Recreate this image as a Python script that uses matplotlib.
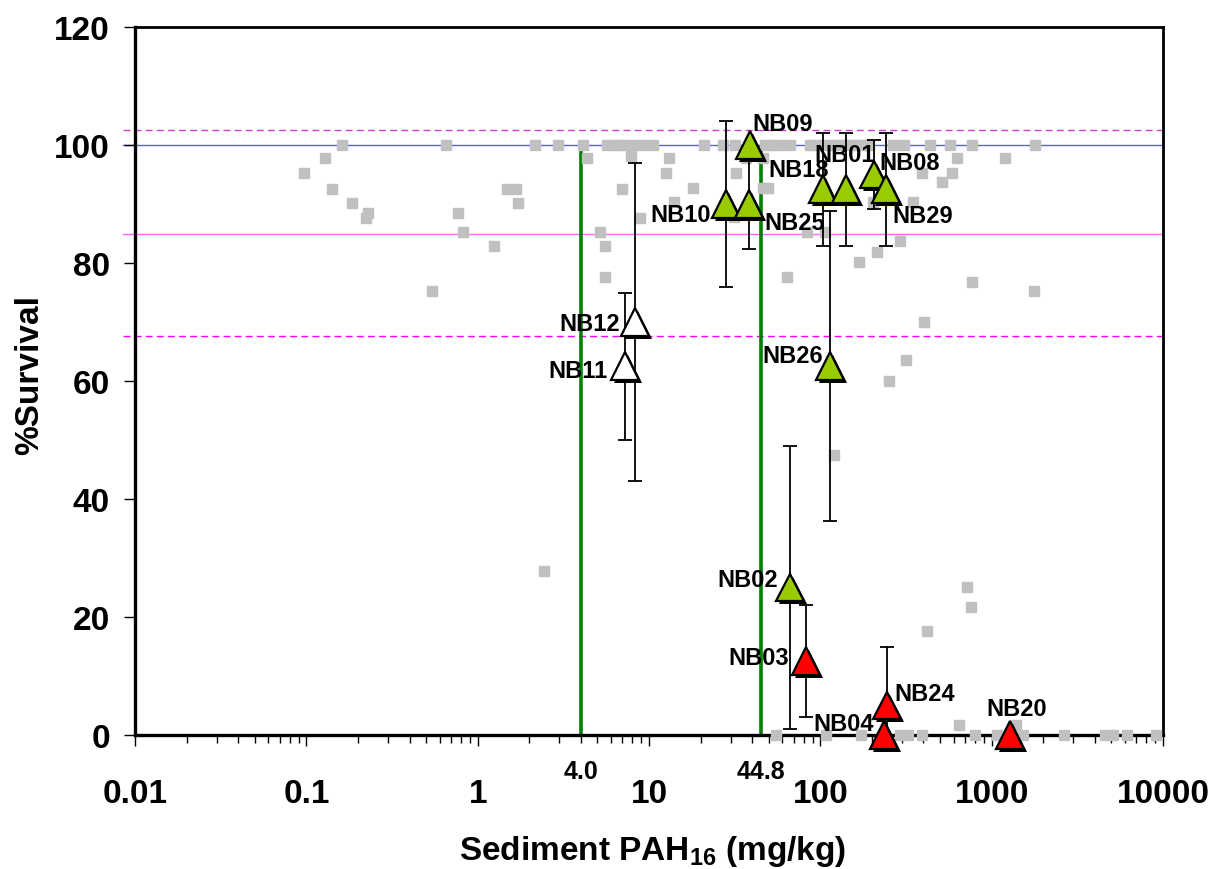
import matplotlib
matplotlib.use('Agg')
import matplotlib.pyplot as plt
import matplotlib.patheffects as pe
import matplotlib.ticker as mticker
import matplotlib.transforms as mtransforms

plt.rcParams['font.family'] = ['Liberation Sans', 'DejaVu Sans']
plt.rcParams['font.weight'] = 'bold'
plt.rcParams['mathtext.fontset'] = 'custom'
plt.rcParams['mathtext.rm'] = 'Liberation Sans:bold'
plt.rcParams['mathtext.bf'] = 'Liberation Sans:bold'

# background reference data (grey squares)
ref_pah = [0.161, 0.129, 0.097, 0.141, 0.185, 0.229, 0.223,
           0.655, 0.769, 0.822, 1.25, 0.542, 1.48, 1.68, 1.72,
           2.16, 2.95, 4.12, 4.36, 5.69, 6.34, 6.97, 7.86, 9.11,
           7.86, 6.97, 5.18, 5.55, 5.55, 10.6, 13.1, 12.6, 14.0, 8.87, 2.44,
           21.0, 27.1, 31.8, 47.6, 52.0, 58.2, 66.7, 87.2, 95.0, 104, 120, 130,
           139, 150, 164, 178, 193, 266, 309, 437, 573, 769, 1795,
           36.9, 46.0, 629, 1200, 32.2, 393, 588, 514, 18.1, 46.3, 49.6,
           203, 348, 31.4, 83.8, 107, 292, 215, 169, 64.0, 769, 1770,
           404, 317, 252, 120, 719, 759, 421, 646, 1390,
           55.2, 108, 173, 292, 326, 393, 801, 1076, 1528, 2650, 4600, 5120, 6180, 9120]
ref_surv = [100, 97.8, 95.3, 92.5, 90.2, 88.5, 87.6,
            100, 88.5, 85.3, 82.9, 75.3, 92.5, 92.5, 90.2,
            100, 100, 100, 97.8, 100, 100, 100, 100, 100,
            98.1, 92.5, 85.3, 82.9, 77.6, 100, 97.8, 95.3, 90.3, 87.6, 27.8,
            100, 100, 100, 100, 100, 100, 100, 100, 100, 100, 100, 100,
            100, 100, 100, 100, 100, 100, 100, 100, 100, 100, 100,
            97.8, 97.8, 97.8, 97.8, 95.3, 95.3, 95.3, 93.7, 92.7, 92.7, 92.7,
            90.3, 90.3, 87.8, 85.2, 85.2, 83.7, 81.8, 80.1, 77.6, 76.8, 75.3,
            70, 63.6, 60, 47.5, 25.1, 21.7, 17.6, 1.7, 1.7,
            0, 0, 0, 0, 0, 0, 0, 0, 0, 0, 0, 0, 0, 0]

# study sites
sites = ['NB09', 'NB18', 'NB01', 'NB08', 'NB10', 'NB25', 'NB29', 'NB12',
         'NB11', 'NB26', 'NB02', 'NB03', 'NB24', 'NB04', 'NB20']
site_pah = [38.9, 103, 141, 206, 28.2, 38.4, 241, 8.3,
            7.25, 114, 66.6, 82.6, 245, 235, 1283]
site_surv = [100, 92.5, 92.5, 95, 90, 90, 92.5, 70,
             62.5, 62.5, 25, 12.5, 5, 0, 0]
site_sd = [0, 9.6, 9.6, 5.8, 14, 7.7, 9.6, 27,
           12.5, 26.3, 24, 9.5, 10, 0, 0]
site_class = ['ok', 'ok', 'ok', 'ok', 'ok', 'ok', 'ok', 'ref',
              'ref', 'ok', 'ok', 'tox', 'tox', 'tox', 'tox']
# label offsets in pixels (dx, dy)
label_off = [(33, 22), (-24, 20), (-1, 35), (36, 12), (-46, -10), (46, -18),
             (37, -26), (-45, -1), (-47, -4), (-37, 11), (-42, 8), (-47, 4),
             (38, 12), (-40, 12), (6, 27)]

thresholds = [4.0, 44.8]
threshold_labels = ['4.0', '44.8']
hlines = [102.5, 100, 85, 67.7]
hline_styles = [('#D040D0', '--'), ('#5A5AFF', '-'), ('#FF66FF', '-'), ('#FF00FF', '--')]

class_colors = {'ok': '#99CC00', 'ref': 'white', 'tox': '#FF0000'}

fig = plt.figure(figsize=(12.21, 8.70), dpi=100)
ax = fig.add_axes([0.1106, 0.154, 0.8419, 0.8138])

for y, (c, ls) in zip(hlines, hline_styles):
    ax.axhline(y, xmin=-0.012, xmax=1, color=c, ls=ls, lw=1, zorder=1,
               clip_on=False, dashes=(5, 3) if ls == '--' else (None, None))

ax.vlines(thresholds, 0, 100, colors='#008000', lw=2.6, zorder=2)

ax.plot(ref_pah, ref_surv, 's', color='#C0C0C0', ms=6.5, mec='#C0C0C0',
        zorder=3, clip_on=False)

ax.errorbar(site_pah, site_surv, yerr=site_sd, fmt='none', ecolor='black',
            elinewidth=1.3, capsize=5, capthick=1.3, zorder=4)

shadow = [pe.SimplePatchShadow(offset=(2.2, -2.2), shadow_rgbFace='black', alpha=1.0),
          pe.Normal()]
for cls, col in class_colors.items():
    xs = [p for p, k in zip(site_pah, site_class) if k == cls]
    ys = [s for s, k in zip(site_surv, site_class) if k == cls]
    ax.plot(xs, ys, '^', ms=20, mfc=col, mec='black', mew=1.6, zorder=5,
            clip_on=False, path_effects=shadow)

for name, x, y, (dx, dy) in zip(sites, site_pah, site_surv, label_off):
    ax.annotate(name, (x, y), xytext=(dx, dy), textcoords='offset pixels',
                ha='center', va='center', fontsize=17, fontweight='bold', zorder=6)

ax.set_xscale('log')
ax.set_xlim(0.01, 10000)
ax.set_ylim(0, 120)
ax.set_yticks(range(0, 121, 20))
ax.set_xticks([0.01, 0.1, 1, 10, 100, 1000, 10000])
ax.set_xticklabels(['0.01', '0.1', '1', '10', '100', '1000', '10000'])
ax.xaxis.set_minor_locator(mticker.LogLocator(base=10, subs=range(2, 10), numticks=20))
ax.xaxis.set_minor_formatter(mticker.NullFormatter())

ax.tick_params(axis='x', which='major', length=8, width=1, pad=23, labelsize=24)
ax.tick_params(axis='x', which='minor', length=5.8, width=1)
ax.tick_params(axis='y', which='major', length=8, width=1, pad=10, labelsize=24)
for lab in ax.get_xticklabels() + ax.get_yticklabels():
    lab.set_fontweight('bold')

for side in ['left', 'bottom']:
    ax.spines[side].set_linewidth(2.4)
for side in ['top', 'right']:
    ax.spines[side].set_linewidth(2.0)

trans = mtransforms.blended_transform_factory(ax.transData, ax.transAxes)
for t, lab in zip(thresholds, threshold_labels):
    ax.text(t, -0.051, lab, transform=trans, ha='center', va='center',
            fontsize=18, fontweight='bold')

fig.text(29.5 / 1221, 1 - 375 / 870, '%Survival', rotation=90, ha='center',
         va='center', fontsize=24, fontweight='bold')
fig.text(653 / 1221, 10 / 870, r'Sediment PAH$_{\mathbf{16}}$ (mg/kg)',
         ha='center', va='baseline', fontsize=24, fontweight='bold')

fig.savefig('out.png', dpi=100)
